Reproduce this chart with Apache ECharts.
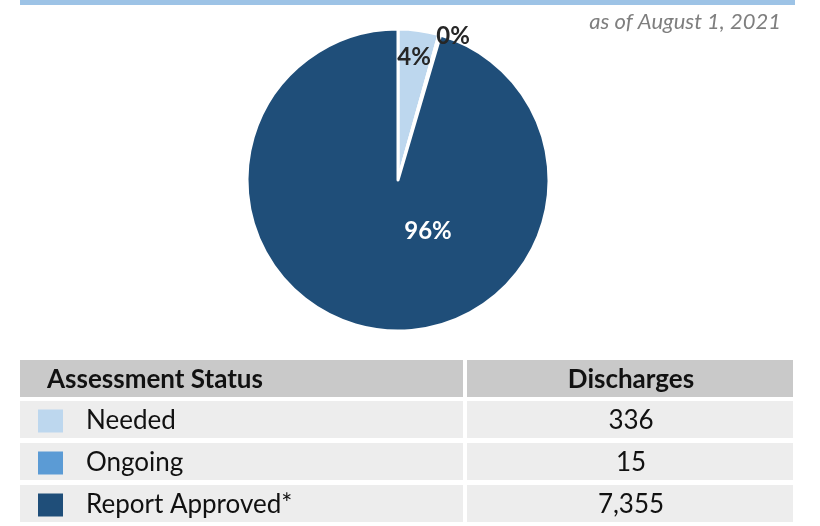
<!DOCTYPE html>
<html>
<head>
<meta charset="utf-8">
<script src="https://cdn.jsdelivr.net/npm/echarts@6/dist/echarts.min.js"></script>
<style>
  html, body { margin: 0; padding: 0; background: #fff; }
  #chart { width: 820px; height: 526px; }
</style>
</head>
<body>
<div id="chart"></div>
<script>
// data
const statuses = ['Needed', 'Ongoing', 'Report Approved*'];
const discharges = [336, 15, 7355];
const colors = ['#bdd7ee', '#5b9bd5', '#1f4e79'];
const labelSpots = [[414, 57], [453, 36], [428, 231]]; // where the % labels sit
const labelColors = ['#262626', '#262626', '#ffffff'];

const font = 'Lato, "Open Sans", sans-serif';

let myChart = echarts.init(document.getElementById('chart'));

// table background + discharge numbers
let tableGraphics = [
    { type: 'rect', shape: { x: 20, y: 0, width: 775, height: 5 }, style: { fill: '#9dc3e6' } },
    { type: 'rect', shape: { x: 20, y: 360, width: 443, height: 37 }, style: { fill: '#c9c9c9' } },
    { type: 'rect', shape: { x: 467, y: 360, width: 326, height: 37 }, style: { fill: '#c9c9c9' } },
    { type: 'text', x: 47, y: 380, style: { text: 'Assessment Status', font: 'bold 26px ' + font, fill: '#111', verticalAlign: 'middle' } },
    { type: 'text', x: 631, y: 380, style: { text: 'Discharges', font: 'bold 26px ' + font, fill: '#111', align: 'center', verticalAlign: 'middle' } }
];
discharges.forEach(function (v, i) {
    let top = 401 + i * 42;
    tableGraphics.push(
        { type: 'rect', z: -1, shape: { x: 20, y: top, width: 443, height: 37 }, style: { fill: '#ededed' } },
        { type: 'rect', z: -1, shape: { x: 467, y: top, width: 326, height: 37 }, style: { fill: '#ededed' } },
        { type: 'text', x: 631, y: top + 20, style: { text: v.toLocaleString('en-US'), font: '26px ' + font, fill: '#111', align: 'center', verticalAlign: 'middle' } }
    );
});

let option = {
    title: {
        text: 'as of August 1, 2021',
        right: 34,
        top: 6,
        textStyle: { fontFamily: font, fontStyle: 'italic', fontWeight: 'normal', fontSize: 22, color: '#7f7f7f' }
    },
    color: colors,
    legend: {
        orient: 'vertical',
        left: 38,
        top: 408,
        icon: 'rect',
        itemWidth: 25,
        itemHeight: 23,
        itemGap: 16,
        padding: 0,
        selectedMode: false,
        itemStyle: { borderWidth: 0 },
        textStyle: { fontFamily: font, fontSize: 26, color: '#111', padding: [0, 0, 0, 18] },
        data: statuses
    },
    graphic: tableGraphics,
    series: [
        {
            type: 'pie',
            center: [398, 180],
            radius: 151,
            startAngle: 90,
            clockwise: true,
            percentPrecision: 0,
            itemStyle: { borderColor: '#fff', borderWidth: 3 },
            label: {
                show: true,
                position: 'inside',
                formatter: '{d}%',
                fontFamily: font,
                fontWeight: 'bold',
                fontSize: 24
            },
            labelLine: { show: false },
            emphasis: { disabled: true },
            labelLayout: function (params) {
                let p = labelSpots[params.dataIndex];
                return { x: p[0], y: p[1], align: 'center', verticalAlign: 'middle' };
            },
            data: statuses.map(function (s, i) {
                return { name: s, value: discharges[i], label: { color: labelColors[i] } };
            })
        }
    ]
};

myChart.setOption(option, true);
</script>
</body>
</html>
